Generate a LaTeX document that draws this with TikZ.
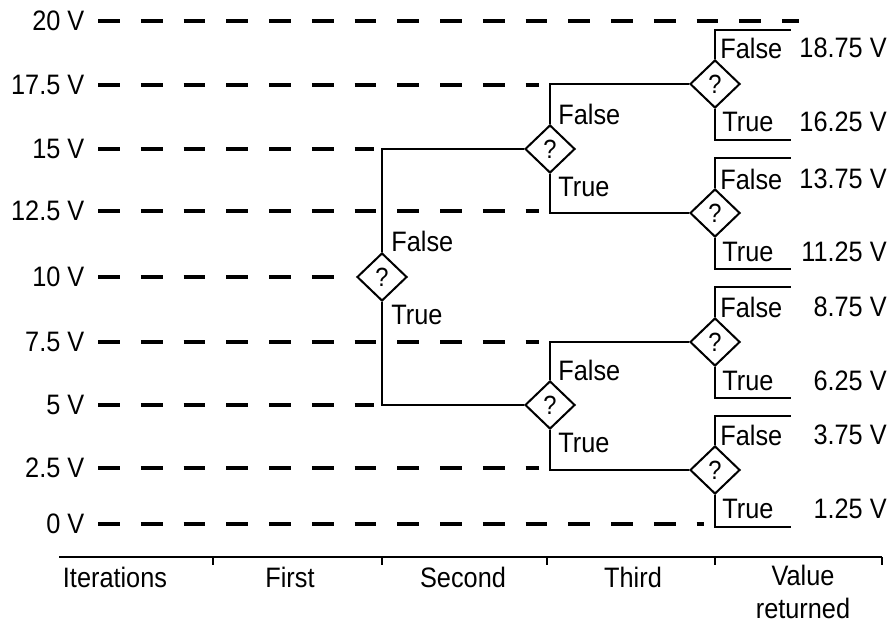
\documentclass[tikz,border=0pt]{standalone}
\usepackage{fontspec}
\setmainfont[FakeStretch=0.9]{Liberation Sans}
\usetikzlibrary{shapes.geometric}
\tikzset{
	level/.style={line width=1.9pt, dash pattern=on 0.435cm off 0.42cm},
	vlab/.style={anchor=east, inner sep=0pt, xshift=-0.24cm},
	test/.style={diamond, draw, line width=1.15pt, minimum width=1cm, minimum height=0.96cm, inner sep=0pt, font=\fontsize{15}{17}\selectfont},
	branch/.style={line width=1.15pt},
	lab/.style={anchor=west, inner sep=0pt},
	val/.style={anchor=east, inner sep=0pt},
}
\begin{document}
\begin{tikzpicture}[font=\fontsize{16}{19}\selectfont]
	\useasboundingbox (0,0) rectangle (17.88,12.48);
	% Voltage levels
	\draw[level] (1.96,12.06) node[vlab] (v8) {20 V} -- (15.98,12.06);
	\draw[level] (1.96,10.78) node[vlab] (v7) {17.5 V} -- (10.78,10.78);
	\draw[level] (1.96,9.50) node[vlab] (v6) {15 V} -- (7.48,9.50);
	\draw[level] (1.96,8.26) node[vlab] (v5) {12.5 V} -- (10.78,8.26);
	\draw[level] (1.96,6.94) node[vlab] (v4) {10 V} -- (6.96,6.94);
	\draw[level] (1.96,5.64) node[vlab] (v3) {7.5 V} -- (10.78,5.64);
	\draw[level] (1.96,4.38) node[vlab] (v2) {5 V} -- (7.48,4.38);
	\draw[level] (1.96,3.12) node[vlab] (v1) {2.5 V} -- (10.78,3.12);
	\draw[level] (1.96,2.00) node[vlab] (v0) {0 V} -- (14.08,2.00);
	% Comparisons
	\node[test] (d1) at (7.64,6.94) {?};
	\node[test] (d2t) at (11.00,9.50) {?};
	\node[test] (d2b) at (11.00,4.38) {?};
	\node[test] (d3a) at (14.30,10.80) {?};
	\node[test] (d3b) at (14.30,8.22) {?};
	\node[test] (d3c) at (14.30,5.64) {?};
	\node[test] (d3d) at (14.30,3.08) {?};
	\draw[branch] (d1.north) |- (d2t.west);
	\draw[branch] (d1.south) |- (d2b.west);
	\draw[branch] (d2t.north) |- (d3a.west);
	\draw[branch] (d2t.south) |- (d3b.west);
	\draw[branch] (d2b.north) |- (d3c.west);
	\draw[branch] (d2b.south) |- (d3d.west);
	% Outputs
	\coordinate (o8) at (15.82,11.88); \coordinate (o7) at (15.82,9.68);
	\coordinate (o6) at (15.82,9.32); \coordinate (o5) at (15.82,7.10);
	\coordinate (o4) at (15.82,6.74); \coordinate (o3) at (15.82,4.52);
	\coordinate (o2) at (15.82,4.16); \coordinate (o1) at (15.82,1.94);
	\draw[branch] (d3a.north) |- (o8);
	\draw[branch] (d3a.south) |- (o7);
	\draw[branch] (d3b.north) |- (o6);
	\draw[branch] (d3b.south) |- (o5);
	\draw[branch] (d3c.north) |- (o4);
	\draw[branch] (d3c.south) |- (o3);
	\draw[branch] (d3d.north) |- (o2);
	\draw[branch] (d3d.south) |- (o1);
	% False / True
	\node[lab] (f1) at (7.82,7.66) {False};
	\node[lab] (t1) at (7.82,6.18) {True};
	\node[lab] (f2t) at (11.16,10.20) {False};
	\node[lab] (t2t) at (11.16,8.74) {True};
	\node[lab] (f2b) at (11.16,5.08) {False};
	\node[lab] (t2b) at (11.16,3.62) {True};
	\node[lab] (f3a) at (14.40,11.52) {False};
	\node[lab] (t3a) at (14.44,10.04) {True};
	\node[lab] (f3b) at (14.40,8.90) {False};
	\node[lab] (t3b) at (14.44,7.44) {True};
	\node[lab] (f3c) at (14.40,6.34) {False};
	\node[lab] (t3c) at (14.44,4.86) {True};
	\node[lab] (f3d) at (14.40,3.78) {False};
	\node[lab] (t3d) at (14.44,2.30) {True};
	% Values returned
	\node[val] (r8) at (17.74,11.52) {18.75 V};
	\node[val] (r7) at (17.74,10.04) {16.25 V};
	\node[val] (r6) at (17.74,8.90) {13.75 V};
	\node[val] (r5) at (17.74,7.44) {11.25 V};
	\node[val] (r4) at (17.74,6.34) {8.75 V};
	\node[val] (r3) at (17.74,4.86) {6.25 V};
	\node[val] (r2) at (17.74,3.78) {3.75 V};
	\node[val] (r1) at (17.74,2.30) {1.25 V};
	% Axis
	\draw[line width=1.4pt] (1.18,1.34) -- (17.64,1.34);
	\draw[line width=1.2pt] (4.26,1.34) -- ++(0,-0.16);
	\draw[line width=1.2pt] (7.64,1.34) -- ++(0,-0.16);
	\draw[line width=1.2pt] (10.94,1.34) -- ++(0,-0.16);
	\draw[line width=1.2pt] (14.30,1.34) -- ++(0,-0.16);
	\draw[line width=1.2pt] (17.64,1.34) -- ++(0,-0.16);
	\node (it) at (2.30,0.94) {Iterations};
	\node (c1) at (5.80,0.94) {First};
	\node (c2) at (9.26,0.94) {Second};
	\node (c3) at (12.66,0.94) {Third};
	\node[align=center] (c4) at (16.06,0.64) {Value\\returned};
\end{tikzpicture}
\end{document}
